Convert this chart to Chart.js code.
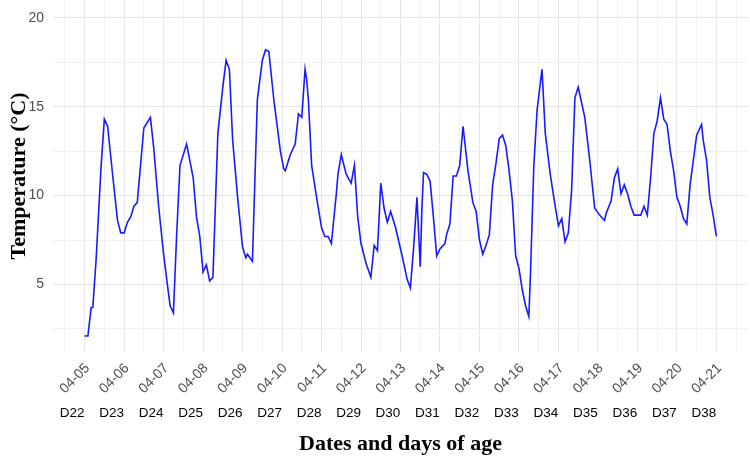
<!DOCTYPE html>
<html>
<head>
<meta charset="utf-8">
<script src="https://cdn.jsdelivr.net/npm/chart.js@4"></script>
<style>
  body { margin: 0; background: #fff; }
</style>
</head>
<body>
<canvas id="tempChart" width="750" height="459"></canvas>
<script>
// hours since 04-05 00:00
const hours = [0, 2, 4, 5, 7, 10, 12, 14, 17, 20, 22, 24, 26, 28, 30, 32, 36, 40, 42, 45,
  48, 51, 52, 54, 56, 58, 62, 66, 68, 70, 72, 74, 76, 78, 81, 84, 86, 88, 90, 93,
  96, 98, 99, 102, 105, 108, 110, 112, 115, 119, 121, 122, 125, 128, 130, 132, 134, 135, 136, 138,
  141, 144, 146, 148, 150, 153, 154, 156, 159, 162, 164, 166, 168, 171, 174, 176, 178, 180, 182, 184,
  186, 189, 193, 196, 198, 200, 202, 204, 205, 206, 208, 210, 212, 214, 216, 219, 220, 222, 224, 226,
  228, 230, 233, 236, 238, 240, 242, 244, 246, 248, 250, 252, 254, 256, 258, 260, 262, 264, 266, 268,
  270, 271, 273, 275, 278, 280, 283, 286, 288, 290, 292, 294, 296, 298, 300, 304, 307, 310, 313, 316,
  317, 320, 322, 324, 326, 328, 330, 332, 334, 338, 340, 342, 344, 346, 348, 350, 352, 354, 356, 358,
  360, 362, 364, 366, 368, 370, 372, 375, 376, 378, 380, 382, 384];

const temps = [2.1, 2.1, 3.7, 3.7, 6.4, 11.6, 14.3, 13.9, 11.2, 8.6, 7.9, 7.9, 8.5, 8.8, 9.4, 9.6, 13.8, 14.4, 12.7, 9.4,
  6.7, 4.5, 3.8, 3.4, 7.9, 11.7, 12.9, 11.0, 8.8, 7.7, 5.7, 6.1, 5.2, 5.4, 13.5, 16.1, 17.6, 17.1, 13.1, 9.9,
  7.1, 6.5, 6.7, 6.3, 15.4, 17.6, 18.2, 18.1, 15.4, 12.5, 11.5, 11.4, 12.3, 12.9, 14.6, 14.4, 17.1, 16.5, 15.4, 11.7,
  9.9, 8.2, 7.7, 7.7, 7.3, 10.1, 11.2, 12.3, 11.2, 10.7, 11.7, 8.8, 7.3, 6.2, 5.4, 7.2, 6.9, 10.7, 9.3, 8.5,
  9.1, 8.2, 6.6, 5.3, 4.8, 7.1, 9.9, 6.0, 9.2, 11.3, 11.2, 10.8, 8.8, 6.6, 7.0, 7.3, 7.8, 8.4, 11.1, 11.1,
  11.7, 13.9, 11.4, 9.6, 9.1, 7.5, 6.7, 7.2, 7.8, 10.6, 11.8, 13.2, 13.4, 12.8, 11.4, 9.7, 6.6, 5.9, 4.7, 3.8,
  3.2, 5.6, 11.6, 14.8, 17.1, 13.5, 11.2, 9.4, 8.3, 8.7, 7.4, 7.9, 10.3, 15.5, 16.1, 14.4, 12.0, 9.3, 8.9, 8.6,
  9.0, 9.7, 11.0, 11.5, 10.1, 10.6, 10.1, 9.4, 8.9, 8.9, 9.4, 8.9, 11.0, 13.5, 14.2, 15.5, 14.3, 14.0, 12.5, 11.4,
  9.9, 9.4, 8.7, 8.4, 10.6, 12.0, 13.4, 14.0, 13.1, 12.0, 9.9, 8.9, 7.7];

const dateLabels = ["04-05", "04-06", "04-07", "04-08", "04-09", "04-10", "04-11", "04-12", "04-13",
  "04-14", "04-15", "04-16", "04-17", "04-18", "04-19", "04-20", "04-21"];
const dayLabels = ["D22", "D23", "D24", "D25", "D26", "D27", "D28", "D29", "D30",
  "D31", "D32", "D33", "D34", "D35", "D36", "D37", "D38"];
const yTicks = [2.5, 5, 7.5, 10, 12.5, 15, 17.5, 20];

const points = hours.map((h, i) => ({ x: h, y: temps[i] }));

// grid every half day, labels on whole days
const xTicks = [];
for (let h = -12; h <= 396; h += 12) xTicks.push({ value: h });
const dayTicks = dateLabels.map((d, i) => ({ value: i * 24 }));

const gridColor = (ctx) => (ctx.tick && ctx.tick.value % 24 === 0 ? "#e6e6e6" : "#f0f0f0");

// no auto padding from tick labels, the plot panel is fixed
const noPad = (scale, size) => {
  if (scale.isHorizontal()) scale.height = size; else scale.width = size;
  scale.paddingTop = 0;
  scale.paddingBottom = 0;
  scale.paddingLeft = 0;
  scale.paddingRight = 0;
};

new Chart(document.getElementById("tempChart"), {
  type: "line",
  data: {
    datasets: [{
      data: points,
      borderColor: "#1a1aff",
      borderWidth: 1.6,
      pointRadius: 0,
      tension: 0,
      fill: false
    }]
  },
  options: {
    responsive: false,
    animation: false,
    layout: { padding: { top: 0, right: 2, left: 0, bottom: 0 } },
    plugins: { legend: { display: false }, tooltip: { enabled: false } },
    scales: {
      x: {
        type: "linear",
        position: "bottom",
        weight: 0,
        min: -19.2,
        max: 403.2,
        afterBuildTicks: (scale) => { scale.ticks = xTicks.map(t => ({ value: t.value })); },
        afterFit: (scale) => noPad(scale, 52),
        border: { display: false },
        grid: { color: gridColor, lineWidth: 1, drawTicks: false },
        ticks: {
          autoSkip: false,
          minRotation: 45,
          maxRotation: 45,
          padding: 8,
          labelOffset: 3,
          color: "#4d4d4d",
          font: { family: "'Liberation Sans', Arial, sans-serif", size: 14 },
          callback: (v) => (v % 24 === 0 && v >= 0 && v <= 384 ? dateLabels[v / 24] : "")
        }
      },
      x2: {
        type: "linear",
        position: "bottom",
        weight: 1,
        min: -19.2,
        max: 403.2,
        afterBuildTicks: (scale) => { scale.ticks = dayTicks.map(t => ({ value: t.value })); },
        afterFit: (scale) => noPad(scale, 55),
        border: { display: false },
        grid: { display: false, drawTicks: false },
        ticks: {
          autoSkip: false,
          maxRotation: 0,
          padding: 1,
          labelOffset: -12.5,
          color: "#000",
          font: { family: "'Liberation Sans', Arial, sans-serif", size: 13.5 },
          callback: (v) => dayLabels[v / 24]
        },
        title: {
          display: true,
          text: "Dates and days of age",
          color: "#000",
          padding: { top: 0, bottom: 1 },
          font: { family: "'Liberation Serif', 'Times New Roman', serif", size: 22, weight: "bold" }
        }
      },
      y: {
        min: 1.2,
        max: 21,
        afterBuildTicks: (scale) => { scale.ticks = yTicks.map(v => ({ value: v })); },
        afterFit: (scale) => noPad(scale, 53),
        border: { display: false },
        grid: {
          color: (ctx) => (ctx.tick && ctx.tick.value % 5 === 0 ? "#e6e6e6" : "#f0f0f0"),
          lineWidth: 1,
          drawTicks: false
        },
        ticks: {
          padding: 9,
          color: "#4d4d4d",
          font: { family: "'Liberation Sans', Arial, sans-serif", size: 14 },
          callback: (v) => (v % 5 === 0 ? String(v) : "")
        },
        title: {
          display: true,
          text: "Temperature (°C)",
          color: "#000",
          padding: { top: 6, bottom: 4 },
          font: { family: "'Liberation Serif', 'Times New Roman', serif", size: 22, weight: "bold" }
        }
      }
    }
  }
});
</script>
</body>
</html>
